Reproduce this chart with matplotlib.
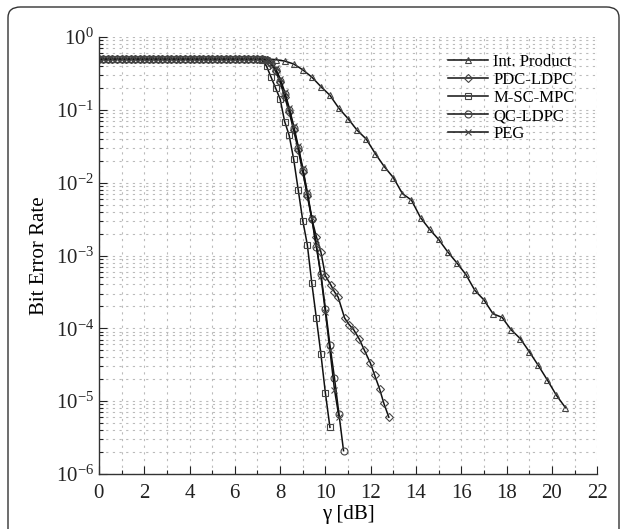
"""BER curves for several code constructions"""
import numpy as np
import matplotlib
matplotlib.use('Agg')
import matplotlib.pyplot as plt
from matplotlib.patches import FancyBboxPatch
from matplotlib.ticker import LogLocator, MultipleLocator, NullFormatter

plt.rcParams['font.family'] = ['Liberation Serif', 'DejaVu Serif']
plt.rcParams['mathtext.fontset'] = 'stix'

# flat part, all codes sit at BER 0.5
flat_x = [round(0.2 * i, 1) for i in range(37)]   # 0 .. 7.2 dB
flat_ber = [0.5] * len(flat_x)

# Int. Product (log10 BER after the waterfall begins)
ip_x = [7.4, 7.8, 8.2, 8.6, 9.0, 9.4, 9.8, 10.2, 10.6, 11.0, 11.4, 11.8,
        12.2, 12.6, 13.0, 13.4, 13.8, 14.2, 14.6, 15.0, 15.4, 15.8, 16.2,
        16.6, 17.0, 17.4, 17.8, 18.2, 18.6, 19.0, 19.4, 19.8, 20.2, 20.6]
ip_log = [-0.30, -0.31, -0.33, -0.37, -0.45, -0.55, -0.68, -0.80, -0.98,
          -1.12, -1.28, -1.40, -1.60, -1.78, -1.93, -2.15, -2.24, -2.48,
          -2.64, -2.78, -2.95, -3.10, -3.26, -3.48, -3.61, -3.80, -3.85,
          -4.02, -4.14, -4.32, -4.51, -4.71, -4.92, -5.09]

# PDC-LDPC
pdc_x = [7.4, 7.6, 7.8, 8.0, 8.2, 8.4, 8.6, 8.8, 9.0, 9.2, 9.4, 9.6, 9.8,
         10.0, 10.25, 10.4, 10.56, 10.85, 11.05, 11.25, 11.5, 11.72, 11.99,
         12.17, 12.39, 12.58, 12.8]
pdc_log = [-0.31, -0.37, -0.47, -0.62, -0.82, -1.03, -1.28, -1.55, -1.85,
           -2.18, -2.50, -2.74, -2.95, -3.28, -3.41, -3.50, -3.57, -3.86,
           -3.95, -4.02, -4.15, -4.30, -4.48, -4.64, -4.83, -5.03, -5.22]

# M-SC-MPC
msc_x = [7.2, 7.4, 7.6, 7.8, 8.0, 8.2, 8.4, 8.6, 8.8, 9.0, 9.2, 9.4, 9.6,
         9.8, 10.0, 10.2]
msc_log = [-0.32, -0.40, -0.55, -0.70, -0.85, -1.16, -1.35, -1.68, -2.10,
           -2.52, -2.85, -3.38, -3.86, -4.35, -4.89, -5.36]

# QC-LDPC
qc_x = [7.4, 7.6, 7.8, 8.0, 8.2, 8.4, 8.6, 8.8, 9.0, 9.2, 9.4, 9.6, 9.8,
        10.0, 10.2, 10.4, 10.6, 10.8]
qc_log = [-0.31, -0.36, -0.45, -0.60, -0.78, -1.00, -1.25, -1.52, -1.82,
          -2.15, -2.50, -2.88, -3.25, -3.73, -4.23, -4.68, -5.18, -5.68]

# PEG
peg_x = [7.4, 7.6, 7.8, 8.0, 8.2, 8.4, 8.6, 8.8, 9.0, 9.2, 9.4, 9.6, 9.8,
         10.0, 10.2, 10.4, 10.6]
peg_log = [-0.31, -0.35, -0.43, -0.57, -0.75, -0.97, -1.22, -1.50, -1.80,
           -2.13, -2.48, -2.86, -3.28, -3.78, -4.30, -4.84, -5.22]

series = [
    ('Int. Product', ip_x, ip_log, '^'),
    ('PDC-LDPC', pdc_x, pdc_log, 'D'),
    ('M-SC-MPC', msc_x, msc_log, 's'),
    ('QC-LDPC', qc_x, qc_log, 'o'),
    ('PEG', peg_x, peg_log, 'x'),
]

fig = plt.figure(figsize=(6.26, 5.29), dpi=100)
ax = fig.add_axes([0.158, 0.104, 0.796, 0.826])

for label, xs, logs, mk in series:
    x = flat_x + xs
    y = flat_ber + [10 ** v for v in logs]
    ms = 4.0 if mk == 'D' else 5.0
    ax.plot(x, y, color='#111111', linewidth=1.1, marker=mk, markersize=ms,
            markerfacecolor='none', markeredgecolor='#444444',
            markeredgewidth=0.8, label=label)

ax.set_yscale('log')
ax.set_xlim(0, 22)
ax.set_ylim(1e-6, 1)
ax.xaxis.set_major_locator(MultipleLocator(2))
ax.xaxis.set_minor_locator(MultipleLocator(1))
ax.yaxis.set_major_locator(LogLocator(base=10, numticks=10))
ax.yaxis.set_minor_locator(LogLocator(base=10, subs=np.arange(2, 10), numticks=20))
ax.yaxis.set_minor_formatter(NullFormatter())

ax.grid(True, which='both', color='#bbbbbb', linestyle=(0, (2, 4)), linewidth=0.8)
ax.set_axisbelow(True)

for side in ('top', 'right'):
    ax.spines[side].set_visible(False)
for side in ('left', 'bottom'):
    ax.spines[side].set_color('#333333')
    ax.spines[side].set_linewidth(1.0)

ax.tick_params(which='major', direction='in', length=6, width=0.8,
               labelsize=15, colors='#222222')
ax.tick_params(axis='x', which='major', pad=7)
ax.tick_params(which='minor', direction='in', length=3, width=0.8, colors='#222222')

ax.set_xlabel('γ [dB]', fontsize=15, labelpad=2)
ax.set_ylabel('Bit Error Rate', fontsize=15)
ax.yaxis.set_label_coords(-0.10, 0.5)

leg = ax.legend(loc='upper right', bbox_to_anchor=(0.985, 0.995), frameon=False,
                fontsize=12, handlelength=2.4, labelspacing=0.12,
                handletextpad=0.3)

# rounded border round the whole figure, bottom edge falls off the canvas
border = FancyBboxPatch((8 / 626, -0.05), 611 / 626, 1.05 - 7 / 529,
                        boxstyle='round,pad=0,rounding_size=0.02',
                        transform=fig.transFigure, fill=False,
                        edgecolor='#333333', linewidth=1.0)
fig.patches.append(border)

plt.savefig('out.png', dpi=100)
plt.close()
